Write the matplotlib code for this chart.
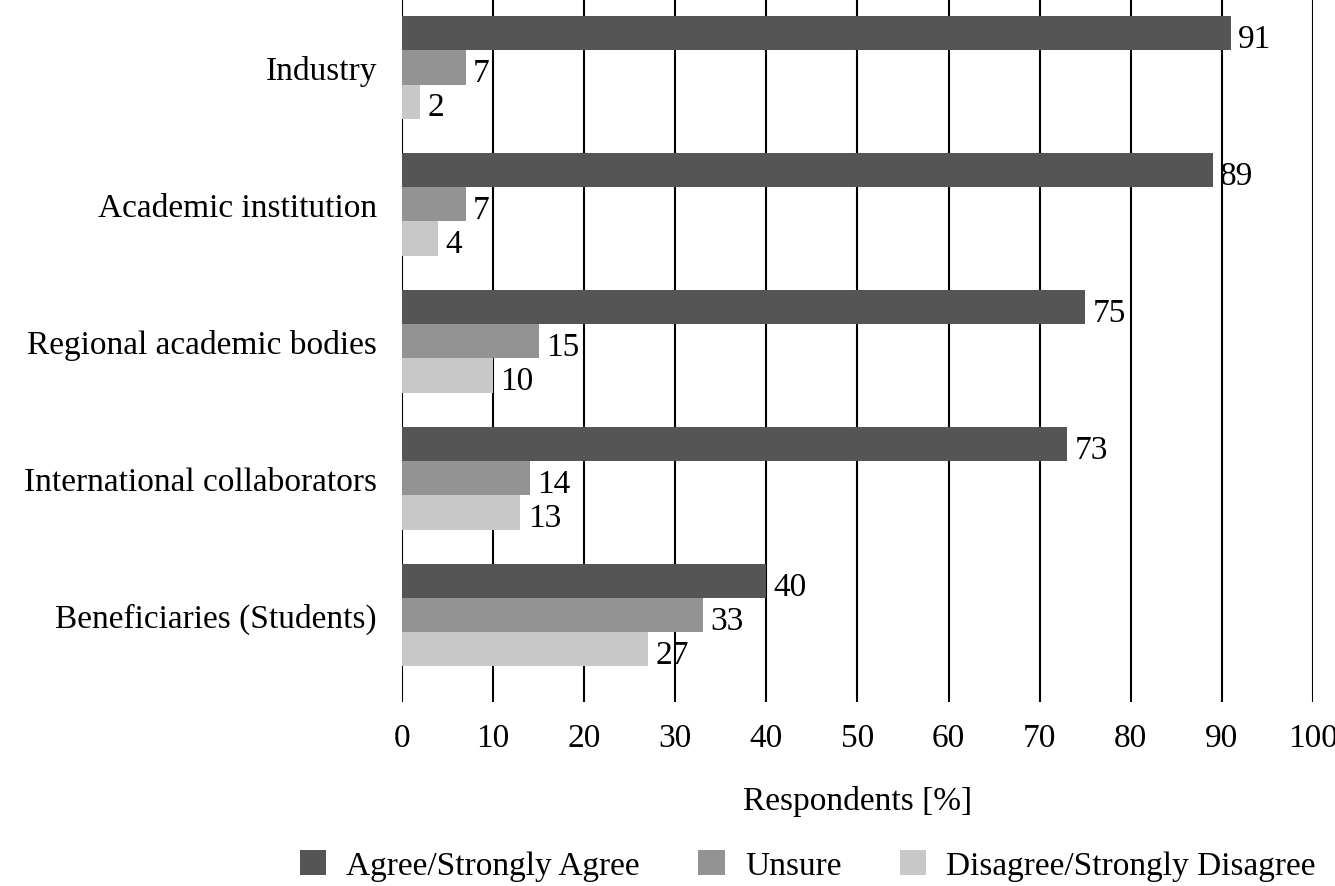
import numpy as np
import matplotlib.pyplot as plt

plt.rcParams['font.family'] = ['Liberation Serif', 'DejaVu Serif']

categories = ["Industry", "Academic institution", "Regional academic bodies",
              "International collaborators", "Beneficiaries (Students)"]
agree = [91, 89, 75, 73, 40]
unsure = [7, 7, 15, 14, 33]
disagree = [2, 4, 10, 13, 27]
series_names = ["Agree/Strongly Agree", "Unsure", "Disagree/Strongly Disagree"]
colors = ["#555555", "#939393", "#c8c8c8"]

fig = plt.figure(figsize=(13.35, 8.87), dpi=100)
ax = fig.add_axes([0.3011, 0.2074, 0.6824, 0.7926])

y = np.arange(len(categories))
h = 0.25
for i, (vals, name, c) in enumerate(zip([agree, unsure, disagree], series_names, colors)):
    pos = y + (i - 1) * h
    ax.barh(pos, vals, height=h, color=c, label=name, zorder=3)
    for p, v in zip(pos, vals):
        ax.text(v + 0.8, p + 0.04, str(v), va='center', ha='left', fontsize=24, zorder=4)

ax.set_xlim(0, 100)
ax.set_ylim(len(categories) - 1 + 0.635, -0.5)
ax.set_xticks(np.arange(0, 101, 10))
ax.set_yticks(y)
ax.set_yticklabels(categories)
ax.tick_params(axis='x', length=0, labelsize=24, pad=15)
ax.tick_params(axis='y', length=0, labelsize=24, pad=18)
ax.xaxis.grid(True, color='black', linewidth=1.5, zorder=0)
for s in ax.spines.values():
    s.set_visible(False)
ax.set_xlabel("Respondents [%]", fontsize=24, labelpad=23)

fig.legend(*ax.get_legend_handles_labels(), loc='center', bbox_to_anchor=(0.605, 0.023),
           ncol=3, frameon=False, fontsize=24, handlelength=0.8, handleheight=0.8,
           columnspacing=1.75, handletextpad=0.6, borderpad=0, borderaxespad=0)

fig.savefig("out.png", dpi=100)
